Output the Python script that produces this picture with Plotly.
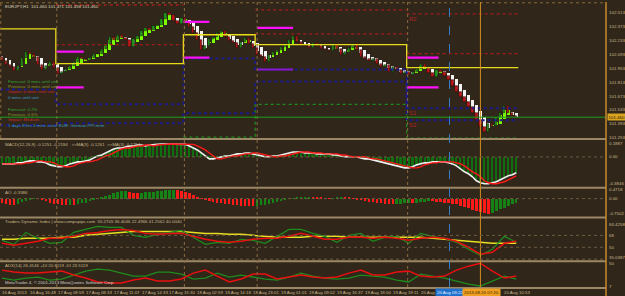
import plotly.graph_objects as go

# ---------------- DATA ----------------
closes = [
102.03,101.99,101.97,101.93,101.98,102.06,102.12,102.10,102.07,101.99,
101.94,101.98,102.02,101.96,101.90,101.92,101.95,101.98,102.02,102.07,
102.05,102.04,102.06,102.10,102.10,102.15,102.20,102.27,102.24,102.29,
102.26,102.24,102.17,102.25,102.28,102.33,102.36,102.34,102.38,102.39,
102.45,102.51,102.49,102.43,102.40,102.46,102.42,102.37,102.31,102.24,
102.14,102.18,102.25,102.27,102.31,102.33,102.27,102.23,102.21,102.16,
102.22,102.26,102.20,102.16,102.09,102.07,102.02,102.09,102.12,102.14,
102.17,102.20,102.24,102.28,102.22,102.19,102.18,102.16,102.21,102.18,
102.15,102.14,102.13,102.20,102.15,102.09,102.12,102.16,102.20,102.14,
102.07,102.05,102.03,102.05,102.00,101.97,101.99,101.92,101.97,101.94,
101.90,101.92,101.89,101.92,101.95,102.00,101.96,101.91,101.86,101.94,
101.92,101.88,101.83,101.77,101.71,101.66,101.61,101.56,101.50,101.43,
101.36,101.31,101.39,101.37,101.46,101.50,101.57,101.50,101.47,101.46]
first_open = 102.07

macd = [
-0.100,-0.100,-0.100,-0.100,-0.085,-0.085,-0.071,-0.057,-0.057,-0.071,
-0.071,-0.085,-0.114,-0.128,-0.142,-0.142,-0.128,-0.100,-0.085,-0.071,
-0.071,-0.057,-0.043,-0.014,0.014,0.028,0.057,0.085,0.114,0.128,
0.128,0.142,0.157,0.157,0.171,0.171,0.157,0.171,0.180,0.180,
0.185,0.185,0.189,0.189,0.185,0.185,0.180,0.157,0.128,0.100,
0.057,0.014,-0.028,-0.028,-0.014,0.003,0.014,0.014,0.028,0.043,
0.043,0.057,0.057,0.043,0.028,0.014,0.002,0.002,0.014,0.014,
0.028,0.043,0.057,0.071,0.071,0.071,0.057,0.057,0.057,0.043,
0.043,0.043,0.043,0.028,0.028,0.014,0.002,0.002,0.002,0.002,
-0.014,-0.028,-0.028,-0.043,-0.057,-0.071,-0.085,-0.100,-0.114,-0.128,
-0.142,-0.157,-0.157,-0.142,-0.114,-0.100,-0.085,-0.085,-0.071,-0.071,
-0.071,-0.071,-0.085,-0.100,-0.128,-0.171,-0.214,-0.242,-0.285,-0.342,
-0.370,-0.385,-0.385,-0.370,-0.356,-0.328,-0.299,-0.271,-0.256,-0.228]
macd_signal = [
-0.100,-0.100,-0.100,-0.100,-0.100,-0.100,-0.085,-0.085,-0.071,-0.057,
-0.057,-0.071,-0.071,-0.085,-0.114,-0.128,-0.142,-0.142,-0.128,-0.100,
-0.085,-0.071,-0.071,-0.057,-0.043,-0.014,0.014,0.028,0.057,0.085,
0.114,0.128,0.128,0.142,0.157,0.157,0.171,0.171,0.157,0.171,
0.180,0.180,0.185,0.185,0.189,0.189,0.185,0.185,0.180,0.157,
0.128,0.100,0.057,0.014,-0.028,-0.028,-0.014,0.003,0.014,0.014,
0.028,0.043,0.043,0.057,0.057,0.043,0.028,0.014,0.002,0.002,
0.014,0.014,0.028,0.043,0.057,0.071,0.071,0.071,0.057,0.057,
0.057,0.043,0.043,0.043,0.043,0.028,0.028,0.014,0.002,0.002,
0.002,0.002,-0.014,-0.028,-0.028,-0.043,-0.057,-0.071,-0.085,-0.100,
-0.114,-0.128,-0.142,-0.157,-0.157,-0.142,-0.114,-0.100,-0.085,-0.085,
-0.071,-0.071,-0.071,-0.071,-0.085,-0.100,-0.128,-0.171,-0.214,-0.242,
-0.285,-0.342,-0.370,-0.385,-0.385,-0.370,-0.356,-0.328,-0.299,-0.271]

ao = [
-0.20,-0.25,-0.30,-0.32,-0.25,-0.15,-0.08,-0.02,0.02,0.00,
-0.06,-0.12,-0.18,-0.24,-0.28,-0.30,-0.31,-0.29,-0.30,-0.26,
-0.22,-0.18,-0.12,-0.05,0.02,0.08,0.15,0.22,0.28,0.33,
0.38,0.40,0.36,0.32,0.28,0.30,0.33,0.35,0.37,0.38,
0.40,0.43,0.46,0.47,0.44,0.40,0.35,0.28,0.20,0.12,
0.04,-0.04,-0.10,-0.15,-0.18,-0.22,-0.25,-0.28,-0.30,-0.32,
-0.34,-0.35,-0.37,-0.38,-0.36,-0.33,-0.30,-0.26,-0.22,-0.17,
-0.12,-0.06,0.00,0.04,0.07,0.09,0.10,0.12,0.10,0.08,
0.05,0.03,0.02,0.04,0.06,0.08,0.07,0.05,0.02,-0.02,
-0.06,-0.10,-0.14,-0.17,-0.20,-0.22,-0.24,-0.25,-0.26,-0.25,
-0.23,-0.20,-0.18,-0.22,-0.19,-0.16,-0.13,-0.10,-0.12,-0.14,
-0.16,-0.18,-0.20,-0.23,-0.28,-0.34,-0.40,-0.47,-0.54,-0.60,
-0.66,-0.72,-0.75,-0.70,-0.62,-0.53,-0.44,-0.35,-0.27,-0.18]

line_bars = list(range(0, 130, 3))
tdi_green = [60.5,54.5,72.5,63.5,56.0,57.5,72.5,77.0,81.5,80.0,80.0,68.0,65.0,69.5,72.5,75.5,
             65.0,54.5,57.5,56.0,62.0,60.5,56.0,66.5,77.0,77.0,71.0,66.5,57.5,68.0,71.0,59.0,
             65.0,66.5,56.0,71.0,66.5,63.5,57.5,47.0,38.0,47.0,66.5,57.5]
tdi_red = [56.0,53.0,56.0,59.0,63.5,63.5,66.5,71.0,72.5,75.5,77.0,75.5,71.0,69.5,71.0,71.0,
           66.5,62.0,59.0,57.5,59.0,62.0,63.5,63.5,66.5,71.0,66.5,62.0,62.0,65.0,65.0,63.5,
           65.0,63.5,60.5,63.5,65.0,63.5,59.0,50.0,39.5,42.5,56.0,59.0]
tdi_yellow = [62.0,62.0,63.5,63.5,63.5,65.0,65.0,68.0,69.5,71.0,72.5,74.0,74.0,74.0,74.0,74.0,
              72.5,71.0,71.0,69.5,69.5,68.0,66.5,65.0,65.0,65.0,66.5,66.5,66.5,65.0,65.0,65.0,
              65.0,65.0,65.0,65.0,63.5,62.0,60.5,59.0,57.5,56.0,56.0,56.0]
adx_red = [36.9,33.2,31.3,31.3,33.2,35.0,27.6,21.9,14.5,12.6,12.6,18.2,21.9,16.3,16.3,20.1,
           31.3,36.9,25.7,14.5,20.1,29.4,29.4,20.1,23.8,27.6,23.8,21.9,23.8,31.3,36.9,27.6,
           27.6,33.2,35.0,25.7,23.8,25.7,36.9,44.4,50.0,35.0,21.9,25.7]
adx_green = [21.9,18.2,21.9,23.8,18.2,20.1,27.6,35.0,38.8,36.9,31.3,25.7,25.7,33.2,33.2,29.4,
             20.1,21.9,31.3,23.8,27.6,23.8,20.1,18.2,23.8,31.3,25.7,21.9,20.1,21.9,27.6,25.7,
             23.8,18.2,14.5,29.4,25.7,21.9,16.3,10.7,7.0,16.3,25.7,20.1]

# pivot periods (bar edges) and levels
period_edges = [-0.5, 13.5, 45.5, 63.5, 101.5, 129.5]
pivot_p = [102.35, 102.00, 102.29, 102.19, 101.96]
pivot_s1 = [101.74, 101.59, 102.05, 101.94, 101.55]
pivot_s2 = [101.38, 101.40, 101.50, 101.82, 101.43]
pivot_s3 = [None, None, 101.26, 101.59, 101.25]
pivot_r1 = [None, 102.19, None, 102.30, 102.10]
pivot_r2 = [None, 102.59, None, 102.54, 102.50]

mag_start = [13.5, 13.5, 45.5, 45.5, 64.0, 101.5, 101.5]
mag_end = [20.5, 20.5, 52.0, 52.0, 73.0, 109.5, 109.5]
mag_level = [102.12, 101.76, 102.42, 102.06, 102.36, 102.06, 101.76]
purple_seg = (64.0, 73.0, 101.94)

day_sep_bars = [13.75, 45.75, 64.0, 101.75]
blue_marker_bar = 112.25
orange_marker_bar = 120.0
current_price = 101.46

time_label_bars = list(range(0, 130, 7))
time_labels = ["16 Aug 2013", "16 Aug 16:48", "17 Aug 08:59", "17 Aug 08:33", "17 Aug 11:07",
               "17 Aug 14:33", "17 Aug 15:30", "18 Aug 02:59", "18 Aug 14:18", "18 Aug 23:01",
               "19 Aug 01:01", "19 Aug 09:02", "19 Aug 16:37", "19 Aug 18:00", "19 Aug 19:11",
               "20 Aug", "", "", "20 Aug 10:53"]

price_ticks = [102.513, 102.373, 102.233, 102.093, 101.953, 101.813, 101.673, 101.533, 101.393, 101.253]
macd_ticks = [0.1887, 0.0, -0.3846]
ao_ticks = [0.4718, 0.0, -0.7502]
tdi_ticks = [84.4258, 68, 50, 35.0387]
adx_ticks = [50, 7]

# ---------------- DERIVED ----------------
n = len(closes)
idx = list(range(n))
opens = [first_open] + closes[:-1]
ha_close = [(o + c) / 2 for o, c in zip(opens, closes)]
ha_open = []
for i in range(n):
    if i == 0:
        ha_open.append((opens[0] + closes[0]) / 2 + 0.02)
    else:
        ha_open.append((ha_open[i - 1] + ha_close[i - 1]) / 2)

BG = "#30261a"
TXT = "#c8b88a"
H_PLOT = 287.0
W_PLOT = 608.0
FS = 4.4


def fy(py):
    return (H_PLOT - py) / H_PLOT


def fx(px):
    return px / W_PLOT


fig = go.Figure()

# ---- main panel: HA + candles ----
fig.add_trace(go.Bar(x=idx, y=[hc - ho for hc, ho in zip(ha_close, ha_open)], base=ha_open,
                     width=0.7, marker_color=["#7CFC00" if hc >= ho else "#F2F2F2" for hc, ho in zip(ha_close, ha_open)],
                     marker_line_width=0, xaxis="x", yaxis="y"))
fig.add_trace(go.Bar(x=idx, y=[c - o for o, c in zip(opens, closes)], base=opens,
                     width=0.55, marker_color=["#1f9a1f" if c >= o else "#c4141a" for o, c in zip(opens, closes)],
                     marker_line=dict(color="#1a1208", width=0.5), xaxis="x", yaxis="y"))


def step_line(levels):
    xs, ys = [], []
    for k, lv in enumerate(levels):
        if lv is None:
            xs.append(None); ys.append(None)
            continue
        xs += [period_edges[k], period_edges[k + 1]]
        ys += [lv, lv]
    return xs, ys


def seg_line(levels):
    xs, ys = [], []
    for k, lv in enumerate(levels):
        if lv is None:
            continue
        xs += [period_edges[k], period_edges[k + 1], None]
        ys += [lv, lv, None]
    return xs, ys


for lv, col, wd, dash, fn in [(pivot_r2, "#a31c1c", 1.3, "dot", seg_line),
                              (pivot_r1, "#a31c1c", 1.3, "dot", seg_line),
                              (pivot_s3, "#1e8a1e", 1.3, "dot", step_line),
                              (pivot_s2, "#1a1a8a", 2.0, "dot", step_line),
                              (pivot_s1, "#1a1a8a", 2.0, "dot", step_line),
                              (pivot_p, "#e8dc1a", 1.3, "solid", step_line)]:
    xs, ys = fn(lv)
    fig.add_trace(go.Scatter(x=xs, y=ys, mode="lines", line=dict(color=col, width=wd, dash=dash),
                             xaxis="x", yaxis="y", connectgaps=False))

mx, my = [], []
for s, e, lv in zip(mag_start, mag_end, mag_level):
    mx += [s, e, None]
    my += [lv, lv, None]
fig.add_trace(go.Scatter(x=mx, y=my, mode="lines", line=dict(color="#ff10ff", width=2.2), xaxis="x", yaxis="y"))
fig.add_trace(go.Scatter(x=[purple_seg[0], purple_seg[1]], y=[purple_seg[2]] * 2, mode="lines",
                         line=dict(color="#8a18d0", width=2), xaxis="x", yaxis="y"))

# ---- MACD ----
fig.add_trace(go.Bar(x=idx, y=macd, width=0.5, marker_color="#0f6e0f", marker_line_width=0, xaxis="x2", yaxis="y2"))
fig.add_trace(go.Scatter(x=idx, y=macd, mode="lines", line=dict(color="#f0f0f0", width=1.6), xaxis="x2", yaxis="y2"))
fig.add_trace(go.Scatter(x=idx, y=macd_signal, mode="lines", line=dict(color="#ff1a1a", width=1.4), xaxis="x2", yaxis="y2"))

# ---- AO ----
ao_cols = ["#ff1a1a"] + ["#148214" if ao[i] >= ao[i - 1] else "#ff1a1a" for i in range(1, n)]
fig.add_trace(go.Bar(x=idx, y=ao, width=0.6, marker_color=ao_cols, marker_line_width=0, xaxis="x3", yaxis="y3"))

# ---- TDI ----
fig.add_trace(go.Scatter(x=line_bars, y=tdi_yellow, mode="lines", line=dict(color="#e8e020", width=1.5), xaxis="x4", yaxis="y4"))
fig.add_trace(go.Scatter(x=line_bars, y=tdi_green, mode="lines", line=dict(color="#1e8c1e", width=1.2), xaxis="x4", yaxis="y4"))
fig.add_trace(go.Scatter(x=line_bars, y=tdi_red, mode="lines", line=dict(color="#e81010", width=1.5), xaxis="x4", yaxis="y4"))

# ---- ADX ----
fig.add_trace(go.Scatter(x=line_bars, y=adx_green, mode="lines", line=dict(color="#1e8c1e", width=1.3), xaxis="x5", yaxis="y5"))
fig.add_trace(go.Scatter(x=line_bars, y=adx_red, mode="lines", line=dict(color="#e81010", width=1.5), xaxis="x5", yaxis="y5"))

# ---------------- LAYOUT ----------------
panels = [("y", (2, 137), [101.25, 102.60], price_ticks, ["%.3f" % v for v in price_ticks]),
          ("y2", (139, 186), [-0.427, 0.242], macd_ticks, ["0.1887", "0.00", "-0.3846"]),
          ("y3", (188, 216), [-0.9, 0.5], ao_ticks, ["0.4718", "0.00", "-0.7502"]),
          ("y4", (218, 260), [30.5, 93.5], tdi_ticks, ["84.4258", "68", "50", "35.0387"]),
          ("y5", (262, 287), [5.1, 51.9], adx_ticks, ["50", "7"])]

layout = dict(width=625, height=296, margin=dict(l=0, r=17, t=0, b=9),
              paper_bgcolor=BG, plot_bgcolor=BG, showlegend=False, barmode="overlay",
              bargap=0, hovermode=False, font=dict(family="Liberation Sans", size=FS, color=TXT))
for k, (yname, (top, bot), rng, tv, tt) in enumerate(panels):
    axn = "" if k == 0 else str(k + 1)
    layout["xaxis" + axn] = dict(domain=[0, 1], range=[-0.5, 151.5], anchor="y" + axn,
                                 showticklabels=False, showgrid=False, zeroline=False, showline=False,
                                 fixedrange=True)
    layout["yaxis" + axn] = dict(domain=[fy(bot), fy(top)], range=rng, anchor="x" + axn, side="right",
                                 tickvals=tv, ticktext=tt, showgrid=False, zeroline=False, showline=False,
                                 ticks="", tickfont=dict(size=FS, color=TXT), ticklabelstandoff=2)
fig.update_layout(**layout)

shapes = []
# panel separators
for py in [138, 187, 217, 261, 288]:
    shapes.append(dict(type="line", xref="paper", yref="paper", x0=0, x1=1, y0=fy(py), y1=fy(py),
                       line=dict(color="#9c8866", width=2)))
shapes.append(dict(type="line", xref="paper", yref="paper", x0=0, x1=1, y0=fy(0.8), y1=fy(0.8),
                   line=dict(color="#8a6a3a", width=1, dash="dot")))
shapes.append(dict(type="line", xref="paper", yref="paper", x0=fx(0.8), x1=fx(0.8), y0=fy(137), y1=fy(1),
                   line=dict(color="#8a6a3a", width=1, dash="dot")))
# day separators
for b in day_sep_bars:
    shapes.append(dict(type="line", xref="x", yref="paper", x0=b, x1=b, y0=0, y1=1,
                       line=dict(color="#8a6c40", width=1, dash="dot")))
# markers
shapes.append(dict(type="line", xref="x", yref="paper", x0=blue_marker_bar, x1=blue_marker_bar, y0=0, y1=1,
                   line=dict(color="#3a7cc8", width=1, dash="dash")))
shapes.append(dict(type="line", xref="x", yref="paper", x0=orange_marker_bar, x1=orange_marker_bar, y0=0, y1=1,
                   line=dict(color="#d38d1e", width=1)))
# level lines in sub panels
for yr, lv in [("y2", 0), ("y3", 0), ("y4", 68), ("y4", 50), ("y4", 32)]:
    shapes.append(dict(type="line", xref="paper", yref=yr, x0=0, x1=1, y0=lv, y1=lv,
                       line=dict(color="#6e5c40", width=1, dash="dot")))
# current price line
shapes.append(dict(type="line", xref="paper", yref="y", x0=0, x1=1, y0=current_price, y1=current_price,
                   line=dict(color="#1fa01f", width=1)))
# right border
shapes.append(dict(type="line", xref="paper", yref="paper", x0=1, x1=1, y0=fy(296), y1=1,
                   line=dict(color="#c68a2c", width=1.5)))
fig.update_layout(shapes=shapes)

ann = []


def txt(px, py, s, col, size=FS):
    ann.append(dict(xref="paper", yref="paper", x=fx(px), y=fy(py), text=s, showarrow=False,
                    xanchor="left", yanchor="middle", font=dict(size=size, color=col)))


txt(3, 4.5, "EURJPY,H1  101.460 101.471 101.458 101.460", "#ddd5bf")
txt(6, 80, "Forecast: 0 mins until unit", "#32a832")
txt(6, 85, "Previous: 0 mins until unit", "#8c9a2c")
txt(6, 90, "Impact: 0 mins until unit", "#d02a2a")
txt(6, 96, "0 mins until unit: . .", "#3a9cc4")
txt(6, 108, "Forecast: 0.2%", "#32a832")
txt(6, 113, "Previous: 0.6%", "#8c9a2c")
txt(6, 118, "Impact: Medium", "#d02a2a")
txt(6, 124, "1 days 8 hrs 0 mins since EUR: German PPI m/m", "#3a9cc4")
txt(3, 143, "MACD(12,26,9) -0.1251 -0.2194   >>MA(3) -0.1261  >>MA(3) -0.1254", TXT)
txt(3, 192, "AO -0.3386", TXT)
txt(3, 221.5, "Traders Dynamic Index | www.compupips.com  55.2705 36.4046 22.4966 41.2562 40.0040", TXT)
txt(3, 265, "ADX(14) 26.4146 +DI 20.8119 -DI 23.5119", TXT)
txt(3, 282, "MetaTrader 4, © 2001-2013 MetaQuotes Software Corp.", "#cfcfcf")

for lab, lv in [("R2", pivot_r2[4]), ("S1", pivot_s1[4]), ("S2", pivot_s2[4])]:
    ann.append(dict(xref="x", yref="y", x=period_edges[4] + 0.2, y=lv, text=lab, showarrow=False,
                    xanchor="left", yanchor="top", font=dict(size=6, color="#b42424")))

for b, s in zip(time_label_bars, time_labels):
    if not s:
        continue
    ann.append(dict(xref="x5", yref="paper", x=b - 0.5, y=fy(288.5), text=s, showarrow=False,
                    xanchor="left", yanchor="top", font=dict(size=FS, color=TXT)))

ann.append(dict(xref="x5", yref="paper", x=blue_marker_bar + 0.2, y=fy(288.5), text="20 Aug 03:22", showarrow=False,
                xanchor="center", yanchor="top", bgcolor="#1f70cc", borderpad=1,
                font=dict(size=FS, color="#e6f0ff")))
ann.append(dict(xref="x5", yref="paper", x=orange_marker_bar + 0.2, y=fy(288.5), text="2013.08.20 07:20", showarrow=False,
                xanchor="center", yanchor="top", bgcolor="#f0a020", borderpad=1,
                font=dict(size=FS, color="#3a2200")))
ann.append(dict(xref="paper", yref="y", x=1.002, y=current_price, text="101.460", showarrow=False,
                xanchor="left", yanchor="middle", bgcolor="#d9a521", borderpad=0.5,
                font=dict(size=FS, color="#2a1a00")))
fig.update_layout(annotations=ann)

fig.write_html("out.html")
